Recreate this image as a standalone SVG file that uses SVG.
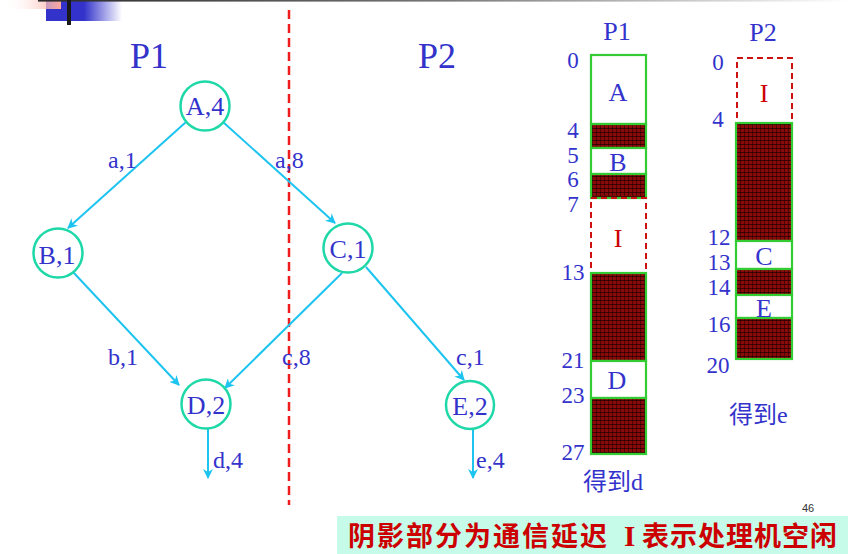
<svg xmlns="http://www.w3.org/2000/svg" width="848" height="554" viewBox="0 0 848 554">
<defs>
<linearGradient id="gPink" x1="0" y1="0" x2="1" y2="0">
<stop offset="0" stop-color="#ffffff" stop-opacity="0"/>
<stop offset="1" stop-color="#ffa89c"/>
</linearGradient>
<linearGradient id="gBlue" x1="0" y1="0" x2="1" y2="0">
<stop offset="0" stop-color="#3333cc"/>
<stop offset="0.5" stop-color="#3333cc"/>
<stop offset="1" stop-color="#3333cc" stop-opacity="0"/>
</linearGradient>
<linearGradient id="gLine" x1="0" y1="0" x2="1" y2="0">
<stop offset="0" stop-color="#2a2a2a"/>
<stop offset="0.5" stop-color="#777777"/>
<stop offset="1" stop-color="#ffffff"/>
</linearGradient>
<pattern id="shade" width="4" height="4" patternUnits="userSpaceOnUse">
<rect width="4" height="4" fill="#8a0a0a"/>
<rect x="0" y="0" width="4" height="1" fill="#1a0000" opacity="0.7"/>
<rect x="0" y="0" width="1" height="4" fill="#1a0000" opacity="0.5"/>
</pattern>
<marker id="arr" viewBox="0 0 10 10" refX="9" refY="5" markerWidth="10" markerHeight="10" markerUnits="userSpaceOnUse" orient="auto">
<path d="M0,0 L10,5 L0,10 L3,5 z" fill="#1ec4f0"/>
</marker>
<style>
.node circle{fill:#ffffff;stroke:#1fd8a8;stroke-width:2.5}
.lbl{font-family:"Liberation Serif",serif;fill:#3333cc}
.nl{font-size:26px;text-anchor:middle}
.el{font-size:24px}
.tick{font-size:23px;text-anchor:middle}
.edge{stroke:#1ec4f0;stroke-width:2;fill:none;marker-end:url(#arr)}
.box{fill:#ffffff;stroke:#33cc33;stroke-width:2.2}
.sh{fill:url(#shade);stroke:#33cc33;stroke-width:2.2}
.idle{fill:none;stroke:#cc1111;stroke-width:2;stroke-dasharray:6 4}
.bl{font-family:"Liberation Serif",serif;font-size:26px;text-anchor:middle;fill:#3333cc}
.il{font-family:"Liberation Serif",serif;font-size:26px;text-anchor:middle;fill:#cc0000}
.cjk{font-family:"Liberation Serif","Noto Sans CJK SC",serif;fill:#3333cc;font-size:24px}
</style>
</defs>
<rect width="848" height="554" fill="#ffffff"/>
<g id="decor">
<rect x="46" y="0" width="76" height="21" fill="url(#gBlue)"/>
<rect x="5" y="0" width="56" height="9" fill="url(#gPink)"/>
<rect x="38" y="0" width="810" height="1.6" fill="url(#gLine)"/>
<rect x="67" y="0" width="4" height="25" fill="#1a1a1a"/>
</g>
<line id="divider" x1="289" y1="10" x2="289" y2="505" stroke="#ee1c1c" stroke-width="2.5" stroke-dasharray="9 5"/>
<text class="lbl" x="149" y="68" font-size="36" text-anchor="middle">P1</text>
<text class="lbl" x="437" y="68" font-size="36" text-anchor="middle">P2</text>
<g id="connectors">
<line class="edge" x1="186" y1="122" x2="68" y2="228"/>
<line class="edge" x1="223" y1="122" x2="335" y2="223"/>
<line class="edge" x1="73" y1="272" x2="179" y2="385"/>
<line class="edge" x1="342" y1="273" x2="225" y2="388"/>
<line class="edge" x1="366" y1="267" x2="464" y2="380"/>
<line class="edge" x1="208" y1="429" x2="208" y2="478"/>
<line class="edge" x1="473" y1="429" x2="473" y2="478"/>
<text class="lbl el" x="108" y="168">a,1</text>
<text class="lbl el" x="275" y="168">a,8</text>
<text class="lbl el" x="108" y="365">b,1</text>
<text class="lbl el" x="282" y="365">c,8</text>
<text class="lbl el" x="456" y="365">c,1</text>
<text class="lbl el" x="213" y="468">d,4</text>
<text class="lbl el" x="476" y="468">e,4</text>
</g>
<g id="nodeA" class="node"><circle cx="205" cy="106" r="24.5"/><text class="lbl nl" x="205" y="115">A,4</text></g>
<g id="nodeB" class="node"><circle cx="58" cy="253" r="24.5"/><text class="lbl nl" x="57" y="264">B,1</text></g>
<g id="nodeC" class="node"><circle cx="348" cy="248" r="24.5"/><text class="lbl nl" x="348" y="258">C,1</text></g>
<g id="nodeD" class="node"><circle cx="206" cy="404" r="24.5"/><text class="lbl nl" x="206" y="414">D,2</text></g>
<g id="nodeE" class="node"><circle cx="470" cy="405" r="24"/><text class="lbl nl" x="470" y="415">E,2</text></g>
<g id="ganttP1">
<text class="lbl" x="617" y="40" font-size="26" text-anchor="middle">P1</text>
<rect class="box" x="591" y="55" width="55" height="69"/>
<rect class="sh" x="591" y="124" width="55" height="24"/>
<rect class="box" x="591" y="148" width="55" height="26"/>
<rect class="sh" x="591" y="174" width="55" height="24"/>
<rect class="idle" x="591" y="198" width="55" height="75"/>
<rect class="sh" x="591" y="273" width="55" height="88"/>
<rect class="box" x="591" y="361" width="55" height="37"/>
<rect class="sh" x="591" y="398" width="55" height="56"/>
<text class="bl" x="618" y="101">A</text>
<text class="bl" x="618" y="171">B</text>
<text class="il" x="618" y="247">I</text>
<text class="bl" x="617" y="389">D</text>
<text class="lbl tick" x="573" y="68">0</text>
<text class="lbl tick" x="573" y="138">4</text>
<text class="lbl tick" x="573" y="163">5</text>
<text class="lbl tick" x="573" y="187">6</text>
<text class="lbl tick" x="573" y="212">7</text>
<text class="lbl tick" x="573" y="280">13</text>
<text class="lbl tick" x="573" y="368">21</text>
<text class="lbl tick" x="573" y="403">23</text>
<text class="lbl tick" x="573" y="460">27</text>
<text class="cjk" x="583" y="490">得到d</text>
</g>
<g id="ganttP2">
<text class="lbl" x="763" y="41" font-size="26" text-anchor="middle">P2</text>
<rect class="idle" x="737" y="58" width="55" height="65"/>
<rect class="sh" x="736" y="123" width="56" height="118"/>
<rect class="box" x="736" y="241" width="56" height="28"/>
<rect class="sh" x="736" y="269" width="56" height="26"/>
<rect class="box" x="736" y="295" width="56" height="23"/>
<rect class="sh" x="736" y="318" width="56" height="41"/>
<text class="il" x="764" y="102">I</text>
<text class="bl" x="764" y="265">C</text>
<text class="bl" x="764" y="317">E</text>
<text class="lbl tick" x="718" y="70">0</text>
<text class="lbl tick" x="718" y="127">4</text>
<text class="lbl tick" x="719" y="245">12</text>
<text class="lbl tick" x="719" y="270">13</text>
<text class="lbl tick" x="719" y="295">14</text>
<text class="lbl tick" x="719" y="332">16</text>
<text class="lbl tick" x="718" y="373">20</text>
<text class="cjk" x="729" y="423">得到e</text>
</g>
<text x="802" y="512" font-family="Liberation Sans,sans-serif" font-size="11" fill="#333333">46</text>
<g id="banner">
<rect x="337" y="516" width="511" height="38" fill="#c6fbe9"/>
<text x="348" y="546" font-family="'Noto Sans CJK SC',sans-serif" font-weight="bold" font-size="27" fill="#cc0000" textLength="259" lengthAdjust="spacing">阴影部分为通信延迟</text>
<text x="624" y="546" font-family="'Liberation Serif',serif" font-weight="bold" font-size="29" fill="#cc0000">I</text>
<text x="642" y="546" font-family="'Noto Sans CJK SC',sans-serif" font-weight="bold" font-size="27" fill="#cc0000" textLength="195" lengthAdjust="spacing">表示处理机空闲</text>
</g>
</svg>
